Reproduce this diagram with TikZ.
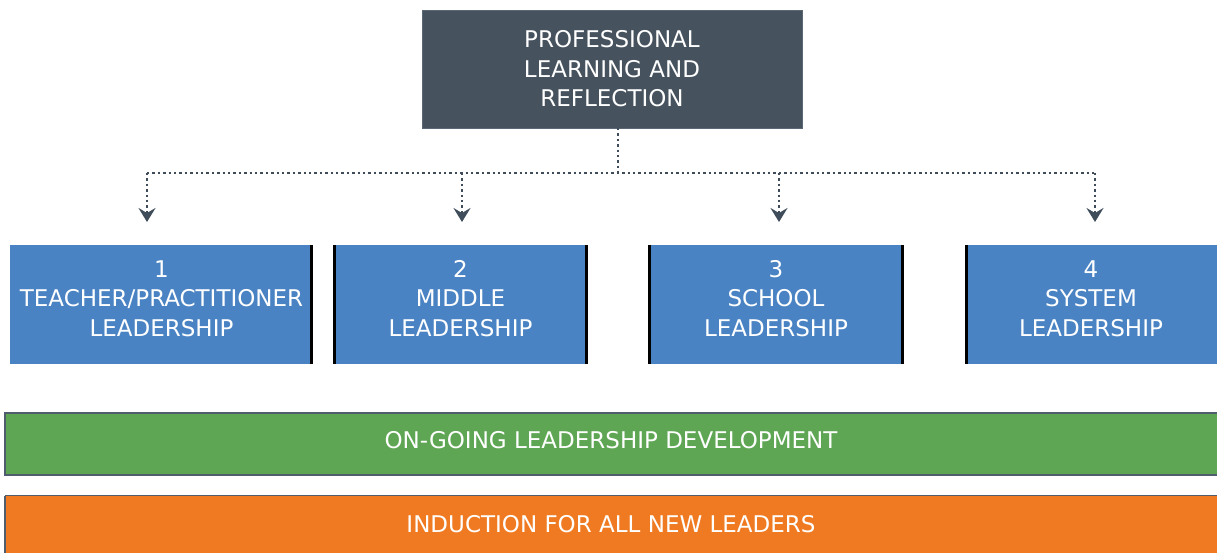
\documentclass[tikz,border=0pt]{standalone}
\usepackage{fontspec}
\setmainfont{DejaVu Sans}
\usetikzlibrary{arrows.meta}
\definecolor{slatefill}{HTML}{46535F}
\definecolor{slateedge}{HTML}{5A6774}
\definecolor{leadblue}{HTML}{4A83C3}
\definecolor{devgreen}{HTML}{5EA654}
\definecolor{indorange}{HTML}{F07A21}
\definecolor{barline}{HTML}{4F5D6C}
\definecolor{dotcol}{HTML}{3F4C5A}
\tikzset{
  boxtext/.style={text=white, align=center, inner sep=0pt,
    font=\fontsize{23bp}{29.5bp}\selectfont},
  topbox/.style={fill=slatefill, draw=slateedge, line width=0.8bp,
    minimum width=380bp, minimum height=118bp, inner sep=0pt,
    text=white, align=center, font=\fontsize{23bp}{29.5bp}\selectfont},
  leadbox/.style={fill=leadblue, minimum height=119bp, inner sep=0pt},
  sideedge/.style={draw=black, line width=3bp},
  barbox/.style={minimum width=1212bp, inner sep=0pt},
  barframe/.style={draw=barline, line width=2.4bp},
  dotline/.style={draw=dotcol, line width=2.8bp, dash pattern=on 2.4bp off 3bp},
  droptip/.style={-{Stealth[length=14bp,width=17bp,inset=5bp]}}
}
\begin{document}
\begin{tikzpicture}[x=1bp,y=-1bp]
\useasboundingbox (0,0) rectangle (1217,553);

% top box
\node[topbox] (plr) at (612,69) {PROFESSIONAL\\LEARNING AND\\REFLECTION};

% four leadership levels
\node[leadbox, minimum width=303bp] (l1) at (161.5,304.5) {};
\node[leadbox, minimum width=255bp] (l2) at (460.5,304.5) {};
\node[leadbox, minimum width=256bp] (l3) at (776,304.5) {};
\node[leadbox, minimum width=252bp] (l4) at (1091,304.5) {};

\node[boxtext] (t1) at (161.5,298.5) {1\\TEACHER/PRACTITIONER\\LEADERSHIP};
\node[boxtext] (t2) at (460.5,298.5) {2\\MIDDLE\\LEADERSHIP};
\node[boxtext] (t3) at (776,298.5) {3\\SCHOOL\\LEADERSHIP};
\node[boxtext] (t4) at (1091,298.5) {4\\SYSTEM\\LEADERSHIP};

% dark side edges of the level boxes
\draw[sideedge] ([xshift=-1.5bp]l1.north east) -- ([xshift=-1.5bp]l1.south east);
\draw[sideedge] ([xshift=1.5bp]l2.north west) -- ([xshift=1.5bp]l2.south west);
\draw[sideedge] ([xshift=-1.5bp]l2.north east) -- ([xshift=-1.5bp]l2.south east);
\draw[sideedge] ([xshift=1.5bp]l3.north west) -- ([xshift=1.5bp]l3.south west);
\draw[sideedge] ([xshift=-1.5bp]l3.north east) -- ([xshift=-1.5bp]l3.south east);
\draw[sideedge] ([xshift=1.5bp]l4.north west) -- ([xshift=1.5bp]l4.south west);

% dotted distribution lines
\coordinate (stem) at (618,128);
\coordinate (hub) at (618,173);
\coordinate (h1) at (147,173);
\coordinate (h2) at (462,173);
\coordinate (h3) at (779,173);
\coordinate (h4) at (1095,173);
\coordinate (d1) at (147,222);
\coordinate (d2) at (462,222);
\coordinate (d3) at (779,222);
\coordinate (d4) at (1095,222);
\draw[dotline] (stem) -- (hub);
\draw[dotline] (h1) -- (h4);
\draw[dotline, droptip] (h1) -- (d1);
\draw[dotline, droptip] (h2) -- (d2);
\draw[dotline, droptip] (h3) -- (d3);
\draw[dotline, droptip] (h4) -- (d4);

% development bar
\node[barbox, fill=devgreen, minimum height=62bp] (dev) at (611,444) {};
\draw[barframe] (dev.north east) -- (dev.north west) -- (dev.south west) -- (dev.south east);
\node[boxtext] (devtext) at (611,440) {ON-GOING LEADERSHIP DEVELOPMENT};

% induction bar
\node[barbox, fill=indorange, minimum height=57bp] (ind) at (611,524.5) {};
\draw[draw=barline, line width=1.2bp] (ind.north east) -- (ind.north west);
\draw[barframe] (ind.north west) -- (ind.south west);
\node[boxtext] (indtext) at (611,524) {INDUCTION FOR ALL NEW LEADERS};
\end{tikzpicture}
\end{document}
